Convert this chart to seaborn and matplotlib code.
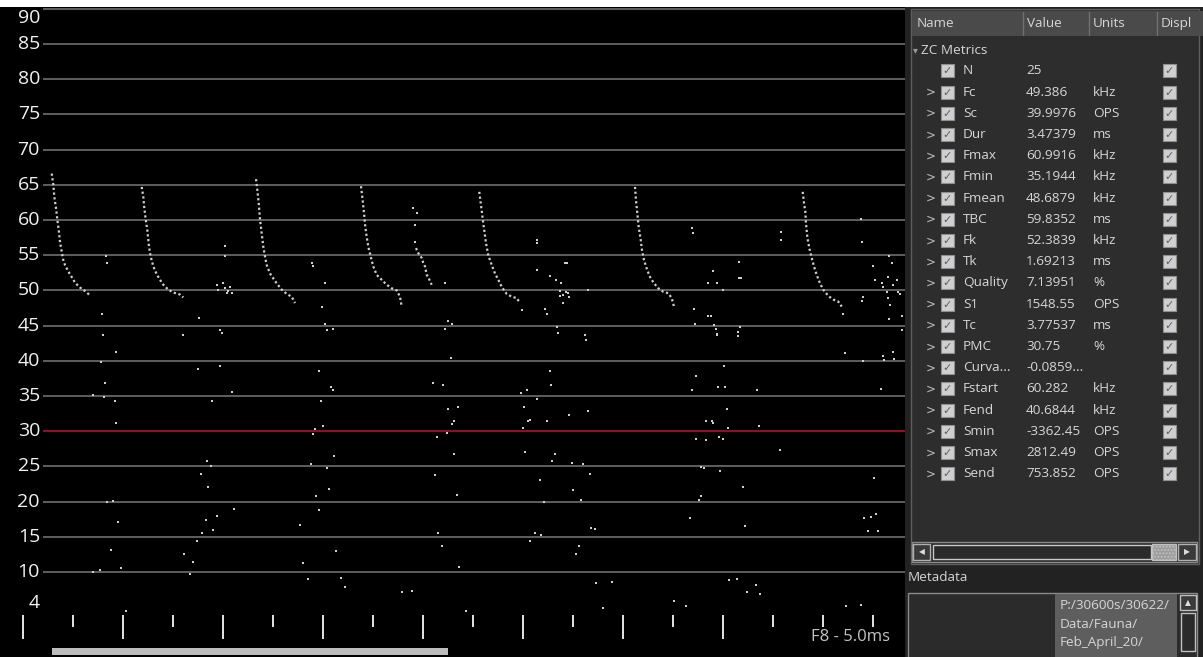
import numpy as np
import pandas as pd
import matplotlib
matplotlib.use("Agg")
import matplotlib.pyplot as plt
import seaborn as sns
from matplotlib.patches import Rectangle

# ---------------- data ----------------
# frequency gridlines (kHz) and time ticks (ms)
ytick_vals = [90, 85, 80, 75, 70, 65, 60, 55, 50, 45, 40, 35, 30, 25, 20, 15, 10]
ref_line_khz = 30
floor_label = "4"
time_ticks_ms = [0, 5, 10, 15, 20, 25, 30, 35, 40, 45, 50, 55, 60, 65, 70, 75, 80, 85]
time_label = "F8 - 5.0ms"

call1_ms = [2.87, 3.03, 3.13, 3.3, 3.43, 3.57, 3.7, 3.87, 4.03, 4.2, 4.53, 4.87, 5.2, 5.7, 6.2, 6.7]
call1_khz = [66.6, 65.0, 63.3, 61.7, 60.1, 58.6, 56.9, 55.5, 54.3, 53.6, 52.7, 51.9, 51.1, 50.4, 49.9, 49.3]
call2_ms = [11.87, 12.03, 12.13, 12.27, 12.43, 12.6, 12.77, 13.03, 13.37, 13.7, 14.03, 14.53, 15.03, 15.7, 16.03]
call2_khz = [64.7, 63.3, 61.7, 60.1, 58.6, 56.2, 54.8, 53.4, 52.3, 51.5, 50.8, 50.1, 49.7, 49.4, 49.0]
call3_ms = [23.3, 23.43, 23.57, 23.7, 23.87, 24.03, 24.2, 24.37, 24.7, 25.03, 25.37, 25.87, 26.37, 26.87, 27.2]
call3_khz = [65.8, 64.3, 62.4, 60.1, 58.1, 56.2, 54.8, 53.6, 52.4, 51.7, 51.0, 50.1, 49.5, 49.1, 48.2]
call4_ms = [33.8, 33.97, 34.1, 34.23, 34.37, 34.53, 34.77, 35.03, 35.37, 35.87, 36.37, 36.87, 37.37, 37.7, 37.87]
call4_khz = [64.8, 62.8, 61.0, 59.0, 57.6, 56.2, 54.8, 53.4, 52.2, 51.5, 50.8, 50.3, 50.0, 49.1, 47.7]
call5_ms = [39.3, 39.53, 39.87, 40.03, 40.2, 40.37, 40.53, 40.7, 40.87]
call5_khz = [56.0, 55.3, 54.6, 53.9, 53.4, 52.2, 51.9, 51.3, 50.8]
call6_ms = [45.63, 45.77, 45.9, 46.03, 46.17, 46.3, 46.53, 46.87, 47.2, 47.53, 47.87, 48.37, 48.87, 49.37, 49.7]
call6_khz = [64.0, 62.4, 61.0, 59.5, 58.1, 56.7, 55.0, 53.6, 52.4, 51.5, 50.5, 49.5, 49.1, 48.9, 48.2]
call7_ms = [61.2, 61.3, 61.43, 61.57, 61.77, 61.9, 62.1, 62.37, 62.7, 63.1, 63.53, 64.03, 64.53, 64.87, 65.1]
call7_khz = [64.7, 62.8, 61.0, 59.0, 57.2, 55.7, 54.3, 53.1, 51.9, 51.0, 50.3, 49.8, 49.6, 48.9, 47.7]
call8_ms = [77.97, 78.1, 78.23, 78.3, 78.43, 78.63, 78.87, 79.1, 79.37, 79.7, 80.03, 80.53, 81.03, 81.53, 81.87]
call8_khz = [64.0, 62.4, 61.2, 59.5, 57.6, 56.0, 54.6, 53.4, 52.2, 51.0, 50.1, 49.2, 48.7, 48.4, 47.7]

upper_noise_ms = [8.3, 8.37, 7.93, 8.03, 20.2, 20.23, 19.37, 19.53, 19.97, 20.2, 20.53, 20.7, 20.87, 20.37,
                  17.63, 15.97, 19.7, 19.87, 28.87, 29.03, 30.2, 29.87, 30.2, 30.37, 31.03,
                  39.03, 39.37, 39.2, 39.2, 42.2, 42.53, 42.2, 42.87, 49.87, 82.03,
                  51.37, 51.37, 51.43, 52.7, 53.3, 53.8, 54.2, 54.4, 53.7, 54.0, 54.5, 54.6, 53.7, 54.3,
                  54.03, 56.47, 52.2, 52.37, 53.37, 53.53, 56.2, 56.3,
                  66.93, 66.97, 69.03, 68.53, 69.37, 69.97, 67.1, 68.53, 68.77, 67.2, 69.13, 69.27, 69.37,
                  71.63, 71.63, 71.77, 71.7, 71.53, 75.8, 75.8,
                  83.8, 83.87, 85.03, 85.2, 83.97, 83.87, 85.87, 86.03, 86.37, 86.53, 86.53, 87.37, 87.03,
                  86.63, 86.87, 86.7, 86.63, 87.53, 87.7, 87.87, 87.87]
upper_noise_khz = [54.9, 53.9, 46.6, 43.6, 56.3, 54.9, 50.8, 50.0, 51.0, 50.3, 49.9, 50.5, 49.6, 49.6,
                   46.1, 43.7, 44.4, 43.9, 53.9, 53.4, 51.0, 47.7, 45.2, 44.4, 44.5,
                   61.7, 61.0, 59.3, 56.9, 51.0, 45.6, 44.5, 45.2, 47.2, 46.7,
                   57.2, 56.8, 52.9, 52.0, 51.5, 51.0, 53.9, 53.9, 49.9, 49.4, 49.6, 49.0, 49.2, 49.7,
                   48.2, 50.0, 47.3, 46.6, 44.8, 44.0, 43.7, 42.9,
                   58.8, 58.2, 52.7, 51.0, 51.0, 50.0, 47.3, 46.3, 46.3, 45.2, 45.1, 44.5, 43.7,
                   54.1, 51.7, 51.7, 44.8, 44.1, 58.3, 57.2,
                   60.2, 56.9, 53.4, 51.5, 49.1, 48.5, 51.1, 50.5, 49.8, 48.9, 51.9, 51.5, 50.8,
                   54.9, 53.9, 47.9, 46.0, 49.8, 49.5, 46.3, 44.4]

lower_noise_ms = [9.3, 7.8, 8.23, 6.97, 8.07, 9.2, 9.3, 8.43, 9.03, 9.53, 8.77, 7.03, 7.7, 9.8, 10.3,
                  17.53, 19.7, 20.87, 18.87, 18.37, 18.77, 17.77, 18.53, 19.43, 21.13, 18.27, 17.87, 18.97,
                  17.37, 16.13, 16.97, 16.73, 27.7,
                  29.63, 30.77, 30.97, 29.8, 30.03, 29.2, 29.03, 31.13, 28.8, 30.43, 30.57, 29.3, 29.57,
                  31.3, 27.97, 28.53, 31.8, 32.2, 37.93, 38.87,
                  42.77, 40.97, 41.97, 42.5, 43.53, 43.1, 42.87, 42.37, 41.37, 43.1, 41.2, 43.37, 41.5,
                  41.93, 43.63, 44.27,
                  52.7, 52.8, 49.8, 50.43, 51.43, 50.07, 50.47, 50.7, 52.43, 54.63, 56.47, 49.97, 50.2,
                  53.2, 52.93, 54.93, 56.03, 56.7, 51.7, 55.03, 55.8, 52.13, 56.8, 57.2, 51.2, 51.8, 50.7,
                  55.63, 55.3, 57.27,
                  69.37, 71.47, 82.2, 84.03, 86.03, 86.13, 87.03, 87.13, 70.13, 67.27, 66.87, 69.47, 70.2,
                  73.43, 85.8, 70.37, 68.27, 68.93, 69.03, 70.47, 73.6, 67.3, 68.33, 69.57, 69.97, 75.7,
                  67.77, 68.1, 69.73, 71.97, 85.07, 67.83, 67.6, 66.7, 72.17, 84.13, 84.77, 85.27, 84.53,
                  85.5, 58.87, 58.03, 65.1, 66.3, 70.57, 71.37, 72.43, 73.3, 73.7, 82.27, 83.8]
lower_noise_khz = [41.2, 39.8, 36.9, 35.2, 34.9, 34.3, 31.2, 19.9, 20.1, 17.1, 13.1, 10.0, 10.2, 10.5, 4.5,
                   38.8, 39.2, 35.6, 34.3, 25.8, 25.0, 23.9, 22.0, 18.0, 18.9, 17.4, 15.5, 15.9,
                   14.4, 12.5, 11.4, 9.7, 16.6,
                   38.6, 36.2, 35.9, 34.3, 30.8, 30.3, 29.6, 26.4, 25.3, 24.7, 21.8, 20.8, 18.8,
                   13.0, 11.2, 9.0, 9.1, 7.9, 7.2, 7.3,
                   40.4, 36.9, 36.5, 33.2, 33.5, 31.4, 31.0, 29.8, 29.2, 26.8, 23.8, 20.9, 15.5,
                   13.7, 10.7, 4.4,
                   38.6, 36.5, 35.4, 35.8, 34.6, 33.5, 31.5, 31.6, 31.4, 32.3, 32.9, 30.5, 27.1,
                   26.8, 25.8, 25.5, 25.3, 23.9, 23.1, 21.6, 20.2, 20.0, 16.2, 16.1, 15.5, 15.3, 14.4,
                   13.7, 12.5, 8.4,
                   43.8, 43.5, 41.1, 39.9, 40.7, 40.1, 41.2, 40.2, 39.2, 37.9, 35.8, 36.2, 36.2,
                   35.8, 36.0, 33.2, 31.5, 31.4, 31.1, 30.5, 30.8, 28.9, 28.8, 29.2, 28.9, 27.3,
                   24.9, 24.7, 24.3, 22.1, 23.3, 20.8, 20.2, 17.6, 16.5, 17.6, 17.8, 18.2, 15.8,
                   15.8, 8.5, 4.9, 5.9, 5.1, 8.9, 9.0, 7.2, 8.1, 6.9, 5.1, 5.3]

metric_names = ["N", "Fc", "Sc", "Dur", "Fmax", "Fmin", "Fmean", "TBC", "Fk", "Tk", "Quality", "S1",
                "Tc", "PMC", "Curva...", "Fstart", "Fend", "Smin", "Smax", "Send"]
metric_values = ["25", "49.386", "39.9976", "3.47379", "60.9916", "35.1944", "48.6879", "59.8352",
                 "52.3839", "1.69213", "7.13951", "1548.55", "3.77537", "30.75", "-0.0859...",
                 "60.282", "40.6844", "-3362.45", "2812.49", "753.852"]
metric_units = ["", "kHz", "OPS", "ms", "kHz", "kHz", "kHz", "ms", "kHz", "ms", "%", "OPS", "ms", "%",
                "", "kHz", "kHz", "OPS", "OPS", "OPS"]
header_cols = ["Name", "Value", "Units", "Displ"]
group_label = "ZC Metrics"
metadata_label = "Metadata"
metadata_lines = ["P:/30600s/30622/", "Data/Fauna/", "Feb_April_20/"]

# ---------------- build frames ----------------
call_ms = [call1_ms, call2_ms, call3_ms, call4_ms, call5_ms, call6_ms, call7_ms, call8_ms]
call_khz = [call1_khz, call2_khz, call3_khz, call4_khz, call5_khz, call6_khz, call7_khz, call8_khz]
calls_df = pd.concat([pd.DataFrame({"ms": m, "khz": k, "call": i})
                      for i, (m, k) in enumerate(zip(call_ms, call_khz))], ignore_index=True)
noise_df = pd.DataFrame({"ms": upper_noise_ms + lower_noise_ms,
                         "khz": upper_noise_khz + lower_noise_khz})

# ---------------- figure ----------------
sns.set_theme(style="dark")
plt.rcParams["font.family"] = ["Open Sans", "DejaVu Sans"]

W, H = 1203, 657
fig = plt.figure(figsize=(W / 100, H / 100), dpi=100, facecolor="white")
ax = fig.add_axes([0, 0, 905 / W, 650 / H])
ax.set_facecolor("black")
for s in ax.spines.values():
    s.set_visible(False)

sns.lineplot(data=calls_df, x="ms", y="khz", units="call", estimator=None, sort=False,
             color="#d0d0d0", linewidth=1.6, linestyle=(0, (1, 1.15)), ax=ax, legend=False, zorder=4)
sns.scatterplot(data=noise_df, x="ms", y="khz", marker="s", s=3.2, color="#cfcfcf",
                linewidth=0, ax=ax, legend=False, zorder=4)

ax.set_xlim(-2.3, 88.2)
ax.set_ylim(-2.09, 90.26)
ax.set_xticks([])
ax.set_yticks([])
ax.set_xlabel("")
ax.set_ylabel("")
ax.grid(False)

ytr = ax.get_yaxis_transform()
xtr = ax.get_xaxis_transform()
grid_colors = ["#a3102e" if v == ref_line_khz else "#666666" for v in ytick_vals]
ax.hlines(ytick_vals, 43 / 905, 1.0, transform=ytr, colors=grid_colors, linewidth=1.3, zorder=2)
top_val = max(ytick_vals)
for v in ytick_vals:
    ax.text(40 / 905, v, str(v), transform=ytr, ha="right",
            va="top" if v == top_val else "center", color="#f2f2f2", fontsize=14, zorder=5)
ax.text(40 / 905, (657 - 603) / 650, floor_label, transform=ax.transAxes, ha="right", va="center",
        color="#f2f2f2", fontsize=14)

long_ticks = [t for t in time_ticks_ms if t % 10 == 0]
short_ticks = [t for t in time_ticks_ms if t % 10 != 0]
ax.vlines(long_ticks, 0.0277, 0.0646, transform=xtr, colors="#e6e6e6", linewidth=1.4, zorder=3)
ax.vlines(short_ticks, 0.046, 0.0646, transform=xtr, colors="#e6e6e6", linewidth=1.4, zorder=3)
ax.text(890 / 905, (657 - 637) / 650, time_label, transform=ax.transAxes, ha="right", va="center",
        color="#c4c4c4", fontsize=12, zorder=6,
        bbox=dict(facecolor="black", edgecolor="none", pad=1.5))
ax.add_patch(Rectangle((52 / 905, 2 / 650), 396 / 905, 7 / 650, transform=ax.transAxes,
                       facecolor="#bdbdbd", edgecolor="none", zorder=6))

# ---------------- side panel ----------------
px = fig.add_axes([905 / W, 0, 298 / W, 650 / H])
px.set_xlim(905, 1203)
px.set_ylim(657, 7)
px.axis("off")
px.add_patch(Rectangle((905, 7), 298, 650, facecolor="#222222", edgecolor="none"))
px.add_patch(Rectangle((911, 9), 288, 555, facecolor="#2d2d2d", edgecolor="#5e5e5e", linewidth=1))
px.add_patch(Rectangle((912, 11), 291, 25, facecolor="#4a4a4a", edgecolor="none"))
for xs in [1023, 1089, 1157]:
    px.plot([xs, xs], [12, 35], color="#707070", linewidth=1)

pfont = dict(family=["Open Sans", "DejaVu Sans"], fontsize=9.7, color="#d6d6d6", va="center")
for hx, htxt in zip([917, 1027, 1093, 1161], header_cols):
    px.text(hx, 24, htxt, **pfont)

px.text(913, 50.5, "\u25be", family="DejaVu Sans", fontsize=7, color="#9a9a9a", va="center")
px.text(921, 50.5, group_label, **pfont)

def checkbox(x0, yc):
    px.add_patch(Rectangle((x0, yc - 6.5), 13, 13, facecolor="#cfcfcf", edgecolor="#8f8f8f",
                           linewidth=0.8))
    px.text(x0 + 6.5, yc + 0.5, "\u2713", family="DejaVu Sans", fontsize=8, color="#50607a",
            ha="center", va="center")

for i, (nm, val, un) in enumerate(zip(metric_names, metric_values, metric_units)):
    yc = 71 + i * 21.2
    if nm != "N":
        px.text(926, yc, ">", family="DejaVu Sans", fontsize=8.5, color="#bdbdbd", va="center")
    checkbox(941, yc)
    px.text(963, yc, nm, **pfont)
    px.text(1026, yc, val, **pfont)
    px.text(1093, yc, un, **pfont)
    checkbox(1163, yc)

# horizontal scrollbar
px.add_patch(Rectangle((912, 542), 285, 20, facecolor="#2b2b2b", edgecolor="#8a8a8a", linewidth=1))
px.add_patch(Rectangle((913, 544), 17, 16, facecolor="#3a3a3a", edgecolor="#b0b0b0", linewidth=1))
px.text(921.5, 552, "\u25c0", family="DejaVu Sans", fontsize=5.5, color="#dddddd", ha="center", va="center")
px.add_patch(Rectangle((933, 545), 218, 14, facecolor="#2a2a2a", edgecolor="#c8c8c8", linewidth=1))
px.add_patch(Rectangle((1152, 544), 24, 16, facecolor="#9c9c9c", edgecolor="#c0c0c0", linewidth=1,
                       hatch="....."))
px.add_patch(Rectangle((1178, 544), 18, 16, facecolor="#3a3a3a", edgecolor="#b0b0b0", linewidth=1))
px.text(1187, 552, "\u25b6", family="DejaVu Sans", fontsize=5.5, color="#dddddd", ha="center", va="center")

# metadata
px.text(908, 578, metadata_label, **pfont)
px.add_patch(Rectangle((908, 593), 289, 70, facecolor="#2b2b2b", edgecolor="#8a8a8a", linewidth=1))
px.add_patch(Rectangle((1055, 594), 122, 70, facecolor="#5e5e5e", edgecolor="none"))
for j, line in enumerate(metadata_lines):
    px.text(1060, 606 + j * 18.5, line, **pfont)
px.add_patch(Rectangle((1180, 595), 16, 15, facecolor="#3a3a3a", edgecolor="#c0c0c0", linewidth=1))
px.text(1188, 602.5, "\u25b2", family="DejaVu Sans", fontsize=5.5, color="#dddddd", ha="center", va="center")
px.add_patch(Rectangle((1181, 613), 14, 38, facecolor="#2b2b2b", edgecolor="#c0c0c0", linewidth=1))

fig.savefig("out.png", dpi=100, facecolor="white")
